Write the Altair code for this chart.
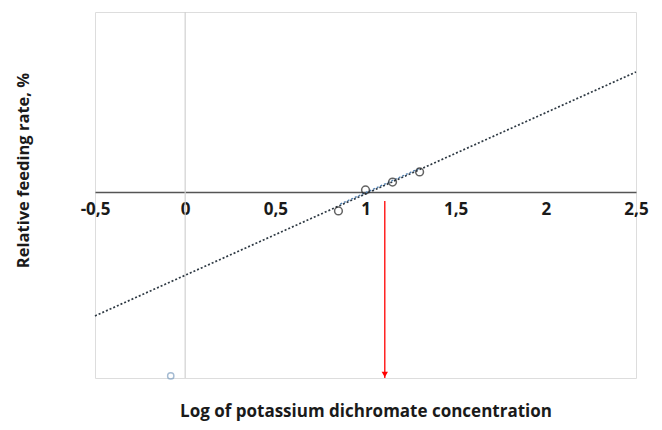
import altair as alt
import pandas as pd

# Observed points (log concentration, relative feeding rate)
obs_x = [0.85, 1.0, 1.15, 1.3]
obs_y = [-6.3, 0.7, 3.3, 6.7]
# Control point
ctrl_x = [-0.08]
ctrl_y = [-61.3]
# Linear trend line end points
trend_x = [-0.5, 2.5]
trend_y = [-41.3, 40.0]
# Short fitted segment over the observations
fit_x = [0.85, 1.3]
fit_y = [-4.3, 7.9]
# Red arrow (EC50 reading)
arrow_x = [1.107]
arrow_top = [-3.0]
arrow_bottom = [-62.0]
arrow_head = [-60.8]
# Vertical axis line at x = 0
vline_x = [0.0]
vline_top = [60.0]
vline_bottom = [-62.0]
x_ticks = [-0.5, 0, 0.5, 1, 1.5, 2, 2.5]

FONT = "Open Sans"
xs = alt.Scale(domain=[-0.5, 2.5], nice=False, zero=False)
ys = alt.Scale(domain=[-62, 60], nice=False, zero=False)

X = alt.X(
    "x:Q", scale=xs,
    axis=alt.Axis(
        orient="bottom", offset=-186, values=x_ticks,
        labelExpr="replace(toString(datum.value), '.', ',')",
        ticks=False, grid=False, domainColor="#555555", domainWidth=1.5,
        labelFont=FONT, labelFontSize=17, labelFontWeight="bold", labelColor="#1a1a1a",
        labelPadding=9, labelFlush=False, labelOverlap=False,
        title="Log of potassium dichromate concentration",
        titleFont=FONT, titleFontSize=17, titleFontWeight="bold", titleColor="#1a1a1a",
        titleY=219, titleBaseline="middle",
    ),
)
Y = alt.Y(
    "y:Q", scale=ys,
    axis=alt.Axis(
        labels=False, ticks=False, domain=False, grid=False,
        title="Relative feeding rate, %",
        titleFont=FONT, titleFontSize=16.5, titleFontWeight="bold", titleColor="#1a1a1a",
        titleX=-72, titleY=158, titleAngle=270, titleBaseline="middle", titleAlign="center",
    ),
)

vline = alt.Chart(pd.DataFrame({"x": vline_x, "y": vline_top, "y2": vline_bottom})).mark_rule(
    color="#d0d0d0", strokeWidth=1.2
).encode(x=X, y=Y, y2="y2:Q")

trend = alt.Chart(pd.DataFrame({"x": trend_x, "y": trend_y})).mark_line(
    color="#2f3a44", strokeWidth=1.7, strokeDash=[2, 2]
).encode(x=X, y=Y)

fit = alt.Chart(pd.DataFrame({"x": fit_x, "y": fit_y})).mark_line(
    color="#4f7fb0", strokeWidth=1.4, strokeDash=[2, 2], strokeDashOffset=2
).encode(x=X, y=Y)

pts = alt.Chart(pd.DataFrame({"x": obs_x, "y": obs_y})).mark_point(
    shape="circle", size=60, filled=False, color="#222222", strokeWidth=1.5
).encode(x=X, y=Y)

ctrl = alt.Chart(pd.DataFrame({"x": ctrl_x, "y": ctrl_y})).mark_point(
    shape="circle", size=40, filled=False, color="#7f9fc0", strokeWidth=1.4
).encode(x=X, y=Y)

arrow = alt.Chart(pd.DataFrame({"x": arrow_x, "y": arrow_top, "y2": arrow_bottom})).mark_rule(
    color="#ff0000", strokeWidth=1.3
).encode(x=X, y=Y, y2="y2:Q")

head = alt.Chart(pd.DataFrame({"x": arrow_x, "y": arrow_head})).mark_point(
    shape="triangle-down", size=40, filled=True, color="#ff0000", opacity=1
).encode(x=X, y=Y)

chart = alt.layer(vline, trend, fit, pts, ctrl, arrow, head).properties(
    width=541, height=366,
    autosize=alt.AutoSizeParams(type="none"),
    padding={"left": 87, "top": 4, "right": 18, "bottom": 44},
).configure_view(stroke="#555555", strokeWidth=1.6).configure(background="white")

chart.save("out.html", embed_options={"renderer": "svg", "actions": False})
